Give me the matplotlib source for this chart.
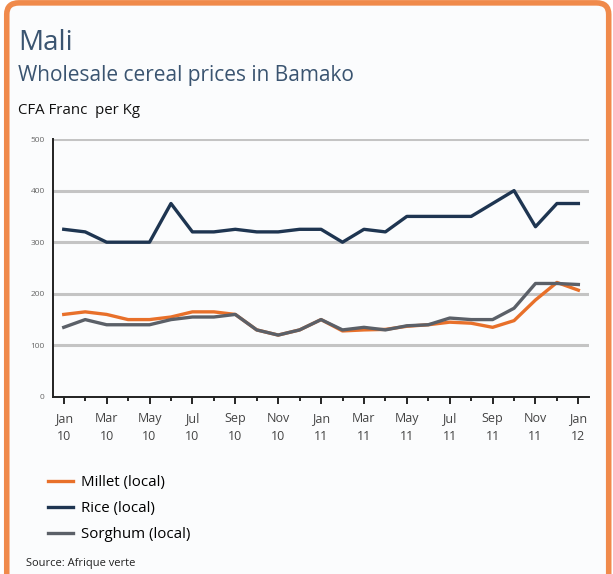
import numpy as np
import matplotlib
matplotlib.use("Agg")
from matplotlib import pyplot as plt
from matplotlib.patches import FancyBboxPatch

# monthly data Jan 10 .. Jan 12
months = ["Jan\n10", "", "Mar\n10", "", "May\n10", "", "Jul\n10", "", "Sep\n10", "", "Nov\n10", "",
          "Jan\n11", "", "Mar\n11", "", "May\n11", "", "Jul\n11", "", "Sep\n11", "", "Nov\n11", "",
          "Jan\n12"]
millet = [160, 165, 160, 150, 150, 155, 165, 165, 160, 130, 120, 130,
          150, 128, 130, 131, 137, 140, 145, 143, 135, 148, 188, 222, 207]
rice = [325, 320, 300, 300, 300, 375, 320, 320, 325, 320, 320, 325,
        325, 300, 325, 320, 350, 350, 350, 350, 375, 400, 330, 375, 375]
sorghum = [135, 150, 140, 140, 140, 150, 155, 155, 160, 130, 120, 130,
           150, 130, 135, 130, 138, 140, 153, 150, 150, 172, 220, 220, 218]
yticks = [0, 100, 200, 300, 400, 500]

c_millet = "#E8702A"
c_rice = "#1E3551"
c_sorghum = "#5B6068"
c_title = "#3A5470"

plt.rcParams['font.family'] = ['Open Sans', 'DejaVu Sans']

fig = plt.figure(figsize=(6.13, 5.74), dpi=100)

# orange rounded frame
frame = FancyBboxPatch((0.011, -0.05), 0.982, 1.045, boxstyle="round,pad=0,rounding_size=0.02",
                       transform=fig.transFigure, facecolor="#FBFCFD", edgecolor="#F08A4B",
                       linewidth=4, zorder=-10)
fig.patches.append(frame)

fig.text(0.03, 0.925, "Mali", fontsize=20, color=c_title, va="center")
fig.text(0.03, 0.868, "Wholesale cereal prices in Bamako", fontsize=15, color=c_title, va="center")
fig.text(0.03, 0.808, "CFA Franc  per Kg", fontsize=10.8, color="#111111", va="center")

ax = fig.add_axes([0.0865, 0.3084, 0.8745, 0.4494])
ax.set_zorder(5)
ax.patch.set_alpha(0)
x = np.arange(len(months))

for v in yticks[1:]:
    ax.axhline(v, color="#C4C4C4", linewidth=2.2, zorder=1)

ax.plot(x, millet, color=c_millet, linewidth=2.4, label="Millet (local)", zorder=3)
ax.plot(x, rice, color=c_rice, linewidth=2.4, label="Rice (local)", zorder=3)
ax.plot(x, sorghum, color=c_sorghum, linewidth=2.4, label="Sorghum (local)", zorder=3.5)

ax.set_xlim(-0.5, 24.5)
ax.set_ylim(0, 500)
ax.set_yticks(yticks)
ax.set_yticklabels([str(v) for v in yticks], fontsize=6, color="#666666")
ax.tick_params(axis="y", length=0, pad=6)
ax.set_xticks(x[::2])
ax.set_xticklabels(months[::2], fontsize=9, color="#444444", linespacing=1.45)
ax.set_xticks(x[1::2], minor=True)
ax.tick_params(axis="x", which="major", length=5, width=1.2, pad=6)
ax.tick_params(axis="x", which="minor", length=3, width=1.2)
for s in ["top", "right"]:
    ax.spines[s].set_visible(False)
for s in ["left", "bottom"]:
    ax.spines[s].set_linewidth(1.4)
    ax.spines[s].set_color("#222222")

leg = fig.legend(loc="upper left", bbox_to_anchor=(0.068, 0.183), frameon=False,
                 fontsize=10.8, handlelength=1.7, labelspacing=0.75, handletextpad=0.5,
                 borderaxespad=0)

fig.text(0.043, 0.019, "Source: Afrique verte", fontsize=8, color="#222222", va="center")

fig.savefig("out.png", dpi=100)
